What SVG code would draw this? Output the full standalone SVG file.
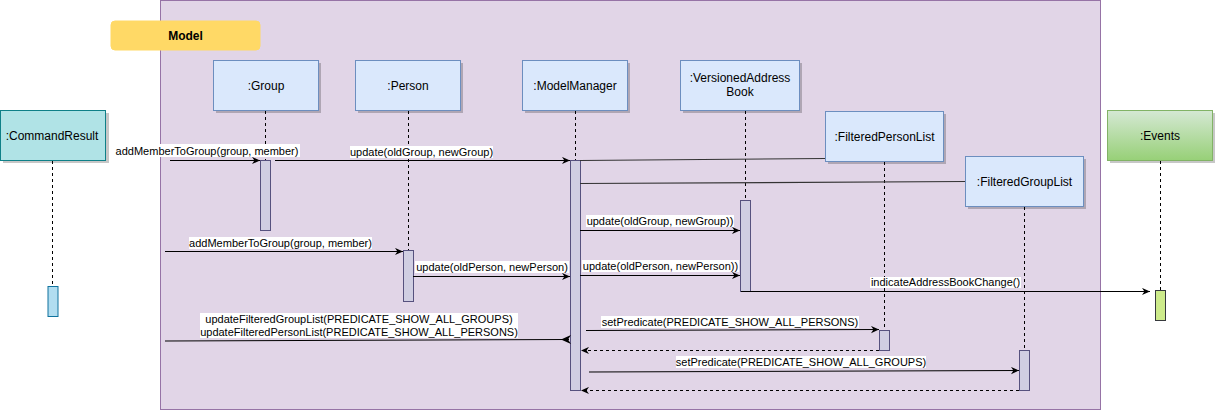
<svg xmlns="http://www.w3.org/2000/svg" width="1216" height="411" viewBox="0 0 1216 411">
<style>
text{font-family:"Liberation Sans",Arial,Helvetica,sans-serif;fill:#000}
.nl{font-size:12px;text-anchor:middle}
.ml{font-size:11px;text-anchor:middle}
.obj{fill:#dae8fc;stroke:#6c8ebf;stroke-width:1}
.sh{fill:#000;opacity:0.22}
.life{stroke:#000;stroke-width:1;stroke-dasharray:3,3;fill:none}
.act{fill:#d0cee2;stroke:#56517e;stroke-width:1}
.msg{stroke:#000;stroke-width:1;fill:none}
.ret{stroke:#000;stroke-width:1;fill:none;stroke-dasharray:3,3}
.lk{stroke:#333;stroke-width:1.2;fill:none}
.lbg{fill:#fff}
</style>
<defs>
<marker id="ah" viewBox="0 0 10 10" refX="10" refY="5" markerWidth="8" markerHeight="8" markerUnits="userSpaceOnUse" orient="auto">
<path d="M0,0.5 L10,5 L0,9.5 L3,5 Z" fill="#000"/>
</marker>
<linearGradient id="gEv" x1="0" y1="0" x2="0" y2="1">
<stop offset="0" stop-color="#d5e8d4"/>
<stop offset="1" stop-color="#97d077"/>
</linearGradient>
</defs>
<rect x="0" y="0" width="1216" height="411" fill="#fff"/>
<g id="model-frame">
<rect x="160.5" y="0.5" width="940" height="409" fill="#e1d5e7" stroke="#9673a6"/>
</g>
<g id="model-label">
<rect x="111" y="21" width="149" height="29" rx="4" fill="#ffd966" stroke="#ffd966"/>
<text x="185.5" y="39.5" style="font-size:12px;font-weight:bold;text-anchor:middle">Model</text>
</g>
<g id="commandresult">
<rect class="sh" x="3" y="113" width="106" height="50"/>
<rect x="0.5" y="110.5" width="105" height="50" fill="#b0e3e6" stroke="#0e8088"/>
<text class="nl" x="52" y="139.5">:CommandResult</text>
<line class="life" x1="52.5" y1="161" x2="52.5" y2="286"/>
<rect x="48" y="286.5" width="10" height="30" fill="#b1ddf0" stroke="#10739e"/>
</g>
<g id="group">
<rect class="sh" x="216" y="63" width="105" height="50"/>
<rect class="obj" x="213.5" y="60.5" width="105" height="50"/>
<text class="nl" x="266" y="89.5">:Group</text>
<line class="life" x1="265.5" y1="111" x2="265.5" y2="160"/>
<rect class="act" x="260.5" y="160.5" width="10" height="70"/>
</g>
<g id="person">
<rect class="sh" x="358" y="63" width="105" height="50"/>
<rect class="obj" x="355.5" y="60.5" width="105" height="50"/>
<text class="nl" x="408" y="89.5">:Person</text>
<line class="life" x1="408.5" y1="111" x2="408.5" y2="250"/>
<rect class="act" x="403.5" y="250.5" width="10" height="51"/>
</g>
<g id="modelmanager">
<rect class="sh" x="525" y="63" width="105" height="50"/>
<rect class="obj" x="522.5" y="60.5" width="105" height="50"/>
<text class="nl" x="575" y="89.5">:ModelManager</text>
<line class="life" x1="575.5" y1="111" x2="575.5" y2="160"/>
<rect class="act" x="570.5" y="160.5" width="10" height="230"/>
</g>
<g id="versionedaddressbook">
<rect class="sh" x="683" y="63" width="119" height="50"/>
<rect class="obj" x="680.5" y="60.5" width="119" height="50"/>
<text class="nl" x="740" y="82">:VersionedAddress</text>
<text class="nl" x="740" y="96">Book</text>
<line class="life" x1="745.5" y1="111" x2="745.5" y2="200"/>
<rect class="act" x="740.5" y="200.5" width="10" height="91"/>
</g>
<g id="filteredpersonlist">
<rect class="sh" x="828" y="114" width="118" height="50"/>
<rect class="obj" x="825.5" y="111.5" width="118" height="50"/>
<text class="nl" x="884.5" y="140.5">:FilteredPersonList</text>
<line class="life" x1="884.5" y1="162" x2="884.5" y2="330"/>
<rect class="act" x="879.5" y="330.5" width="10" height="20"/>
</g>
<g id="filteredgrouplist">
<rect class="sh" x="968" y="159" width="118" height="50"/>
<rect class="obj" x="965.5" y="156.5" width="118" height="50"/>
<text class="nl" x="1024.5" y="185.5">:FilteredGroupList</text>
<line class="life" x1="1024.5" y1="207" x2="1024.5" y2="350"/>
<rect class="act" x="1019.5" y="350.5" width="10" height="40"/>
</g>
<g id="events">
<rect class="sh" x="1110" y="113" width="105" height="50"/>
<rect x="1107.5" y="110.5" width="105" height="50" fill="url(#gEv)" stroke="#82b366"/>
<text class="nl" x="1160" y="139.5">:Events</text>
<line class="life" x1="1160.5" y1="161" x2="1160.5" y2="290"/>
<rect x="1155.5" y="290.5" width="10" height="30" fill="#cdeb8b" stroke="#36393d"/>
</g>
<g id="connectors">
<line class="msg" x1="170" y1="160.5" x2="260" y2="160.5" marker-end="url(#ah)"/>
<line class="msg" x1="275" y1="160.5" x2="570" y2="160.5" marker-end="url(#ah)"/>
<line class="lk" x1="580" y1="160.5" x2="825" y2="158.5"/>
<line class="lk" x1="580" y1="183.5" x2="965" y2="181.5"/>
<line class="msg" x1="580" y1="230.5" x2="740" y2="230.5" marker-end="url(#ah)"/>
<line class="msg" x1="165" y1="251.5" x2="403" y2="251.5" marker-end="url(#ah)"/>
<line class="msg" x1="413" y1="276.5" x2="570" y2="276.5" marker-end="url(#ah)"/>
<line class="msg" x1="580" y1="275.5" x2="740" y2="275.5" marker-end="url(#ah)"/>
<line class="msg" x1="741" y1="291.5" x2="1150" y2="291.5" marker-end="url(#ah)"/>
<line class="msg" x1="165" y1="341" x2="569" y2="339.5"/>
<path d="M561,339.5 L571,335 L568,339.5 L571,344 Z" fill="#000"/>
<line class="msg" x1="586" y1="330.5" x2="879" y2="329.5" marker-end="url(#ah)"/>
<line class="ret" x1="879" y1="350.5" x2="581" y2="350.5" marker-end="url(#ah)"/>
<line class="msg" x1="589" y1="372" x2="1019" y2="370.5" marker-end="url(#ah)"/>
<line class="ret" x1="1019" y1="390.5" x2="581" y2="390.5" marker-end="url(#ah)"/>
<rect class="lbg" x="115" y="144" width="185" height="13"/>
<text class="ml" x="207" y="154.5">addMemberToGroup(group, member)</text>
<rect class="lbg" x="350" y="146" width="143" height="12"/>
<text class="ml" x="421.5" y="156">update(oldGroup, newGroup)</text>
<rect class="lbg" x="586" y="215" width="148" height="12"/>
<text class="ml" x="660" y="225">update(oldGroup, newGroup))</text>
<rect class="lbg" x="189" y="237" width="183" height="12"/>
<text class="ml" x="280.5" y="246.5">addMemberToGroup(group, member)</text>
<rect class="lbg" x="415" y="261" width="154" height="12"/>
<text class="ml" x="492" y="270.5">update(oldPerson, newPerson)</text>
<rect class="lbg" x="582" y="260" width="157" height="12"/>
<text class="ml" x="660.5" y="269.5">update(oldPerson, newPerson))</text>
<rect class="lbg" x="870" y="277" width="151" height="11"/>
<text class="ml" x="945.5" y="286">indicateAddressBookChange()</text>
<rect class="lbg" x="200" y="313" width="318" height="25"/>
<text class="ml" x="359" y="323">updateFilteredGroupList(PREDICATE_SHOW_ALL_GROUPS)</text>
<text class="ml" x="359" y="336">updateFilteredPersonList(PREDICATE_SHOW_ALL_PERSONS)</text>
<rect class="lbg" x="601" y="316" width="258" height="12"/>
<text class="ml" x="730" y="326">setPredicate(PREDICATE_SHOW_ALL_PERSONS)</text>
<rect class="lbg" x="676" y="356" width="250" height="12"/>
<text class="ml" x="801" y="366">setPredicate(PREDICATE_SHOW_ALL_GROUPS)</text>
</g>
</svg>
